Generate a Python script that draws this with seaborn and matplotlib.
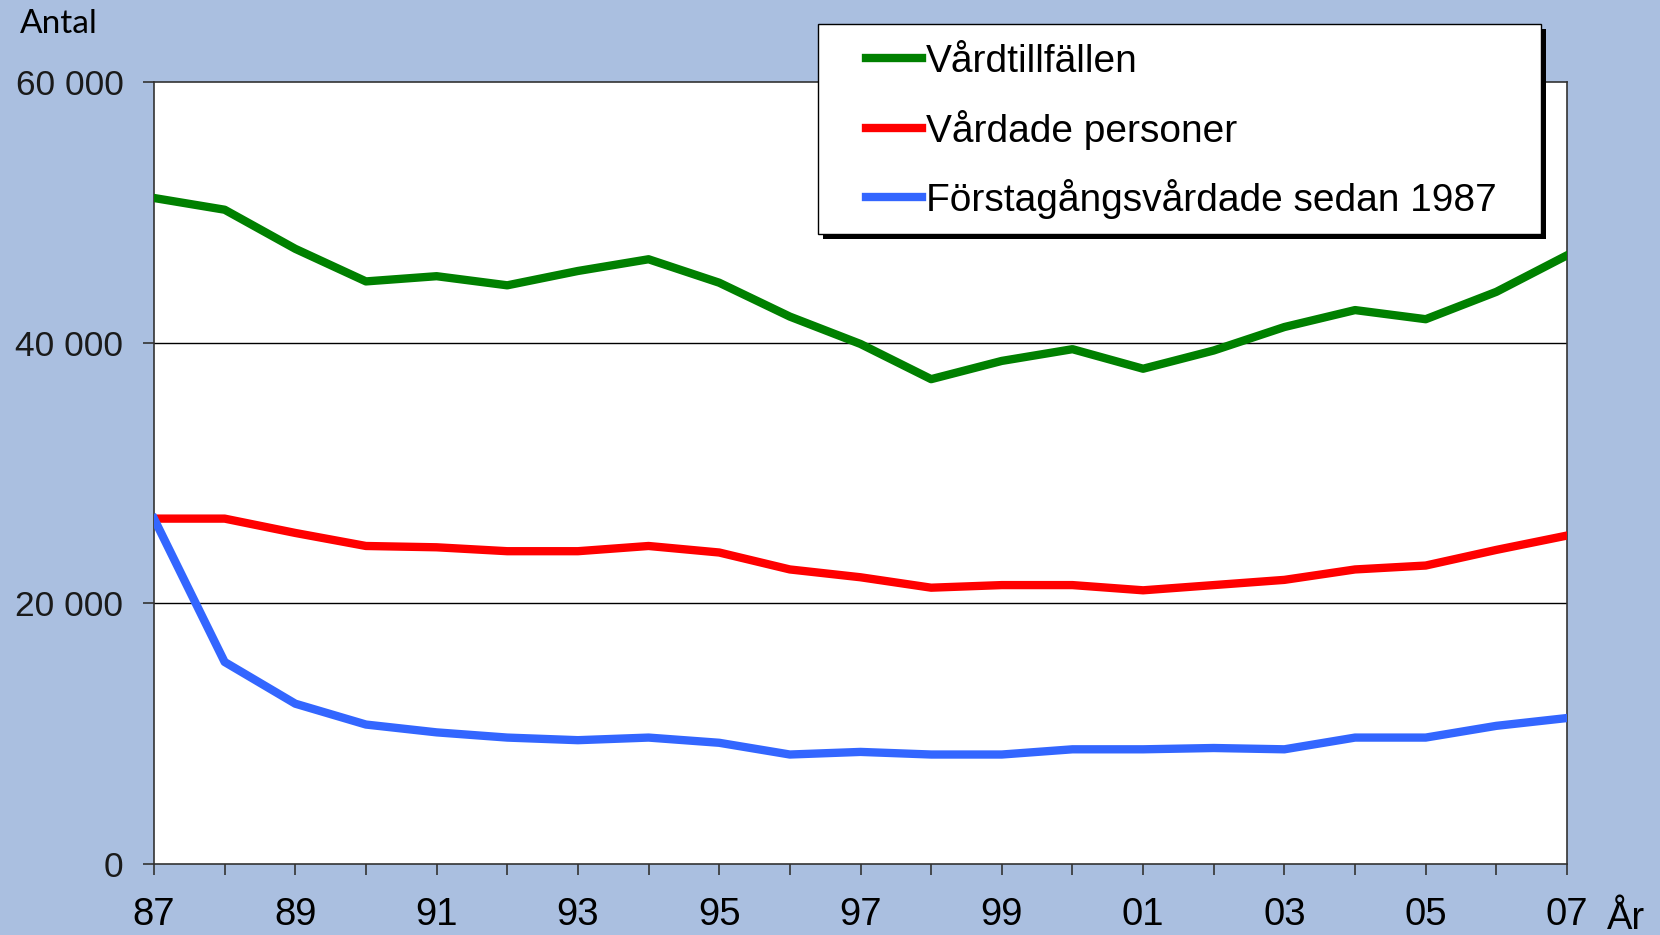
import numpy as np
import pandas as pd
import seaborn as sns
import matplotlib.pyplot as plt
from matplotlib.lines import Line2D
from matplotlib.patches import Rectangle

years = list(range(1987, 2008))
vardtillfallen = [51100, 50200, 47200, 44700, 45100, 44400, 45500, 46400, 44600, 42000, 39900,
                  37200, 38600, 39500, 38000, 39400, 41200, 42500, 41800, 43900, 46700]
vardade = [26500, 26500, 25400, 24400, 24300, 24000, 24000, 24400, 23900, 22600, 22000,
           21200, 21400, 21400, 21000, 21400, 21800, 22600, 22900, 24100, 25200]
forstagang = [26500, 15500, 12300, 10700, 10100, 9700, 9500, 9700, 9300, 8400, 8600,
              8400, 8400, 8800, 8800, 8900, 8800, 9700, 9700, 10600, 11200]
series_names = ['Vårdtillfällen', 'Vårdade personer', 'Förstagångsvårdade sedan 1987']
colors = ['#008000', '#FF0000', '#3366FF']
yticks = [0, 20000, 40000, 60000]
ytick_labels = ['0', '20 000', '40 000', '60 000']

df = pd.DataFrame({'År': years * 3,
                   'Antal': vardtillfallen + vardade + forstagang,
                   'Serie': [series_names[0]] * 21 + [series_names[1]] * 21 + [series_names[2]] * 21})

W, H = 1660, 935
bg = '#AABFE0'
plt.rcParams['font.family'] = ['Liberation Sans', 'DejaVu Sans']
fig = plt.figure(figsize=(16.6, 9.35), dpi=100, facecolor=bg)
ax = fig.add_axes([154 / W, 71 / H, (1567 - 154) / W, (864 - 82) / H])
ax.set_facecolor('white')

sns.lineplot(data=df, x='År', y='Antal', hue='Serie', palette=colors, linewidth=6,
             legend=False, ax=ax, zorder=3)

ax.set_xlim(1987, 2007)
ax.set_ylim(0, 60000)
ax.set_yticks(yticks)
ax.set_yticklabels(ytick_labels, fontsize=25.5, color='#1a1a1a')
ax.set_xticks(years)
ax.set_xticklabels([str(y)[2:] if (y - 1987) % 2 == 0 else '' for y in years], fontsize=27.5)
ax.tick_params(axis='y', length=8, width=1.2, pad=14, color='#333333')
ax.tick_params(axis='x', length=8, width=1.2, pad=16, color='#333333')
ax.set_xlabel('')
ax.set_ylabel('')
for y in [20000, 40000]:
    ax.axhline(y, color='black', linewidth=1, zorder=1)
for s in ax.spines.values():
    s.set_color('#333333')
    s.set_linewidth(1.2)

fig.text(20 / W, 1 - 9 / H, 'Antal', fontsize=24, family=['Lato', 'DejaVu Sans'],
         ha='left', va='top')
fig.text(1626 / W, 1 - 901 / H, 'År', fontsize=27.5, ha='center', va='top')

# legend box with solid shadow
bx0, bx1, by0, by1 = 818, 1541, 24, 234
fig.patches.append(Rectangle((bx0 / W + 5 / W, 1 - by1 / H - 5 / H), (bx1 - bx0) / W, (by1 - by0) / H,
                             transform=fig.transFigure, facecolor='black', edgecolor='none', zorder=8))
fig.patches.append(Rectangle((bx0 / W, 1 - by1 / H), (bx1 - bx0) / W, (by1 - by0) / H,
                             transform=fig.transFigure, facecolor='white', edgecolor='black',
                             linewidth=1, zorder=9))

handles = [Line2D([0], [0], color=c, linewidth=6) for c in colors]
leg = fig.legend(handles, series_names, loc='upper left',
                 bbox_to_anchor=(866 / W, 1 - 44 / H), bbox_transform=fig.transFigure,
                 fontsize=28, frameon=False, handlelength=1.45, handletextpad=0.08,
                 labelspacing=0.76, borderpad=0, borderaxespad=0)
leg.set_zorder(10)

fig.savefig('out.png', dpi=100, facecolor=bg)
